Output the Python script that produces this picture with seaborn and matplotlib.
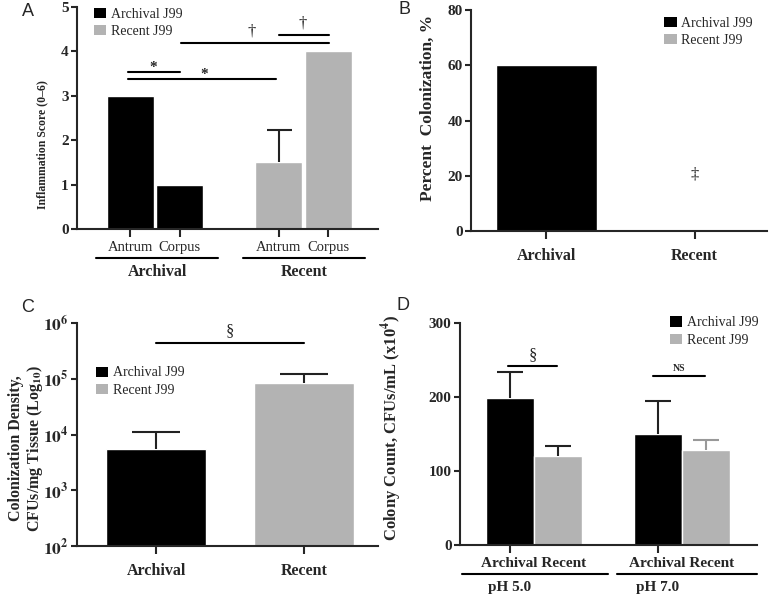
import matplotlib
matplotlib.use("Agg")
import matplotlib.pyplot as plt
import seaborn as sns
import pandas as pd
from matplotlib.patches import Patch
from matplotlib.ticker import NullLocator

# ---- data ----
# A: inflammation score
a_strain = ["Archival", "Archival", "Recent", "Recent"]
a_site = ["Antrum", "Corpus", "Antrum", "Corpus"]
a_score = [3.0, 1.0, 1.5, 4.0]
a_sem = [0.0, 0.0, 0.72, 0.0]

# B: percent colonization
b_strain = ["Archival", "Recent"]
b_pct = [60, 0]

# C: colonization density (CFUs/mg tissue)
c_strain = ["Archival", "Recent"]
c_density = [5.4e3, 8.5e4]
c_sem = [5.9e3, 3.8e4]

# D: colony count (x10^4 CFUs/mL)
d_ph = ["pH 5.0", "pH 5.0", "pH 7.0", "pH 7.0"]
d_strain = ["Archival", "Recent", "Archival", "Recent"]
d_count = [198, 120, 150, 128]
d_sem = [36, 14, 44, 14]

legend_labels = ["Archival J99", "Recent J99"]

BLACK = "#000000"
GRAY = "#b3b3b3"
pal = {"Archival": BLACK, "Recent": GRAY}

sns.set_style("ticks")
plt.rcParams["font.family"] = ["Liberation Serif", "DejaVu Serif"]
plt.rcParams["mathtext.fontset"] = "stix"

fig = plt.figure(figsize=(7.71, 5.94), dpi=100)
axA = fig.add_axes([0.0999, 0.6145, 0.3905, 0.374])
axB = fig.add_axes([0.611, 0.611, 0.384, 0.372])
axC = fig.add_axes([0.0999, 0.0808, 0.3905, 0.3754])
axD = fig.add_axes([0.5966, 0.0825, 0.385, 0.3737])


def style(ax):
    sns.despine(ax=ax)
    for s in ["left", "bottom"]:
        ax.spines[s].set_linewidth(1.5)
    ax.tick_params(axis="y", length=4, width=1.5, labelsize=11, pad=2)
    ax.tick_params(axis="x", length=5, width=1.5)
    for t in ax.get_yticklabels():
        t.set_fontweight("bold")
    ax.set_xlabel("")


def add_legend(ax, x, y):
    handles = [Patch(facecolor=BLACK, edgecolor="none"),
               Patch(facecolor=GRAY, edgecolor="none")]
    ax.legend(handles, legend_labels, loc="upper left", bbox_to_anchor=(x, y),
              frameon=False, fontsize=10, handlelength=0.9, handleheight=0.75,
              handletextpad=0.35, labelspacing=0.3, borderpad=0, borderaxespad=0)


def upper_err(ax, x, y, e, color="#222222", cap=9):
    # only the upper half of the error bar, as in the original
    _, caps, _ = ax.errorbar(x, y, yerr=[[0], [e]], fmt="none", ecolor=color,
                             elinewidth=1.5, capsize=cap, capthick=1.5)
    caps[0].set_visible(False)


def sig(ax, x0, x1, y, text, ty, tx=None, size=11, weight="bold"):
    ax.plot([x0, x1], [y, y], color="black", lw=1.5, clip_on=False)
    if tx is None:
        tx = (x0 + x1) / 2
    ax.text(tx, ty, text, ha="center", va="center", fontsize=size, fontweight=weight)


# ---- Panel A ----
df_a = pd.DataFrame({"strain": a_strain, "site": a_site, "score": a_score, "sem": a_sem})
df_a["pos"] = df_a["strain"] + " " + df_a["site"]
a_order = ["Archival Antrum", "Archival Corpus", "gap", "Recent Antrum", "Recent Corpus"]
sns.barplot(data=df_a, x="pos", y="score", hue="strain", order=a_order, palette=pal,
            dodge=False, width=0.95, saturation=1, errorbar=None, legend=False, ax=axA)
a_x = [a_order.index(p) for p in df_a["pos"]]
for xi, yi, ei in zip(a_x, df_a["score"], df_a["sem"]):
    if ei > 0:
        upper_err(axA, xi, yi, ei, cap=9)
axA.set_xlim(-1.07, 5.0)
axA.set_ylim(0, 5)
axA.set_yticks(range(0, 6))
axA.set_xticks(a_x)
axA.set_xticklabels(a_site, fontsize=10.5)
axA.set_ylabel("Inflammation Score (0\u20136)", fontsize=8.5, fontweight="bold")
axA.yaxis.set_label_coords(-0.095, 0.38)
style(axA)
axA.tick_params(axis="x", length=6, pad=3)
tr = axA.get_xaxis_transform()
for g, (lo, hi) in zip(["Archival", "Recent"], [(-0.68, 1.77), (2.27, 4.73)]):
    axA.plot([lo, hi], [-0.131, -0.131], transform=tr, color="black", lw=1.5, clip_on=False)
    axA.text((lo + hi) / 2, -0.195, g, transform=tr, ha="center", va="center",
             fontsize=11.5, fontweight="bold")
sig(axA, -0.04, 1.0, 3.54, "*", 3.64, tx=0.46)
sig(axA, -0.04, 2.94, 3.38, "*", 3.48, tx=1.5)
sig(axA, 1.02, 4.02, 4.19, "\u2020", 4.44, tx=2.45, size=12, weight="normal")
sig(axA, 3.0, 4.02, 4.37, "\u2020", 4.62, tx=3.48, size=12, weight="normal")
add_legend(axA, 0.056, 0.995)

# ---- Panel B ----
df_b = pd.DataFrame({"strain": b_strain, "pct": b_pct})
sns.barplot(data=df_b, x="strain", y="pct", hue="strain", palette=pal, width=0.68,
            saturation=1, errorbar=None, legend=False, ax=axB)
axB.set_xlim(-0.507, 1.49)
axB.set_ylim(0, 80)
axB.set_yticks(range(0, 81, 20))
axB.set_xticks(range(len(b_strain)))
axB.set_xticklabels(b_strain, fontsize=11.5, fontweight="bold")
axB.set_ylabel("Percent  Colonization, %", fontsize=12.5, fontweight="bold")
axB.yaxis.set_label_coords(-0.118, 0.555)
style(axB)
axB.tick_params(axis="x", length=6, pad=6)
axB.text(b_strain.index("Recent"), 20.5, "\u2021", ha="center", va="center", fontsize=12)
add_legend(axB, 0.652, 0.97)

# ---- Panel C ----
df_c = pd.DataFrame({"strain": c_strain, "density": c_density, "sem": c_sem})
sns.barplot(data=df_c, x="strain", y="density", hue="strain", palette=pal, width=0.676,
            saturation=1, errorbar=None, legend=False, ax=axC)
axC.set_yscale("log")
for xi, (yi, ei) in enumerate(zip(df_c["density"], df_c["sem"])):
    upper_err(axC, xi, yi, ei, cap=17)
axC.set_xlim(-0.534, 1.5)
axC.set_ylim(1e2, 1e6)
axC.set_yticks([10 ** k for k in range(2, 7)])
axC.set_yticklabels([r"$\mathbf{10^{%d}}$" % k for k in range(2, 7)])
axC.yaxis.set_minor_locator(NullLocator())
axC.set_xticks(range(len(c_strain)))
axC.set_xticklabels(c_strain, fontsize=11.5, fontweight="bold")
axC.set_ylabel("Colonization Density,\nCFUs/mg Tissue (Log$_{\\mathbf{10}}$)",
               fontsize=11.5, fontweight="bold", linespacing=1.05)
axC.yaxis.set_label_coords(-0.106, 0.44)
style(axC)
axC.tick_params(axis="y", labelsize=12.5)
axC.tick_params(axis="x", length=6, pad=6)
sig(axC, 0.0, 1.0, 4.4e5, "\u00a7", 7.2e5, size=12, weight="normal")
add_legend(axC, 0.063, 0.805)

# ---- Panel D ----
df_d = pd.DataFrame({"ph": d_ph, "strain": d_strain, "count": d_count, "sem": d_sem})
sns.barplot(data=df_d, x="ph", y="count", hue="strain", palette=pal, width=0.65, gap=0,
            saturation=1, errorbar=None, legend=False, ax=axD)
arch_centers = []
for cont, s in zip(axD.containers, ["Archival", "Recent"]):
    sub = df_d[df_d["strain"] == s]
    for bar, (_, row) in zip(cont, sub.iterrows()):
        xc = bar.get_x() + bar.get_width() / 2
        if s == "Archival":
            arch_centers.append(xc)
        col = "#999999" if (s == "Recent" and row["ph"] == "pH 7.0") else "#222222"
        upper_err(axD, xc, row["count"], row["sem"], color=col, cap=9.5)
axD.set_xlim(-0.5, 1.507)
axD.set_ylim(0, 300)
axD.set_yticks(range(0, 301, 100))
axD.set_ylabel("Colony Count, CFUs/mL (x10$^{\\mathbf{4}}$)", fontsize=12, fontweight="bold")
axD.yaxis.set_label_coords(-0.19, 0.527)
style(axD)
axD.set_xticks([0, 1])
axD.set_xticklabels(["Archival Recent", "Archival Recent"], fontsize=11, fontweight="bold")
axD.tick_params(axis="x", which="major", length=0, pad=9)
axD.set_xticks(arch_centers, minor=True)
axD.tick_params(axis="x", which="minor", length=6, width=1.5)
trd = axD.get_xaxis_transform()
for g, (lo, hi), xc in zip(["pH 5.0", "pH 7.0"], [(-0.486, 0.5), (0.56, 1.507)], arch_centers):
    axD.plot([lo, hi], [-0.131, -0.131], transform=trd, color="black", lw=1.5, clip_on=False)
    axD.text(xc, -0.19, g, transform=trd, ha="center", va="center",
             fontsize=11, fontweight="bold")
sig(axD, -0.176, 0.155, 242, "\u00a7", 257, tx=-0.01, size=12, weight="normal")
sig(axD, 0.804, 1.155, 228, "NS", 238, tx=0.98, size=7)
add_legend(axD, 0.707, 1.03)

# ---- panel letters ----
for lab, x, y in [("A", 28, 11), ("B", 404, 10), ("C", 28, 308), ("D", 403, 306)]:
    fig.text(x / 771, 1 - y / 594, lab, ha="center", va="center", fontsize=13,
             family="Liberation Sans")

fig.savefig("out.png", dpi=100)
